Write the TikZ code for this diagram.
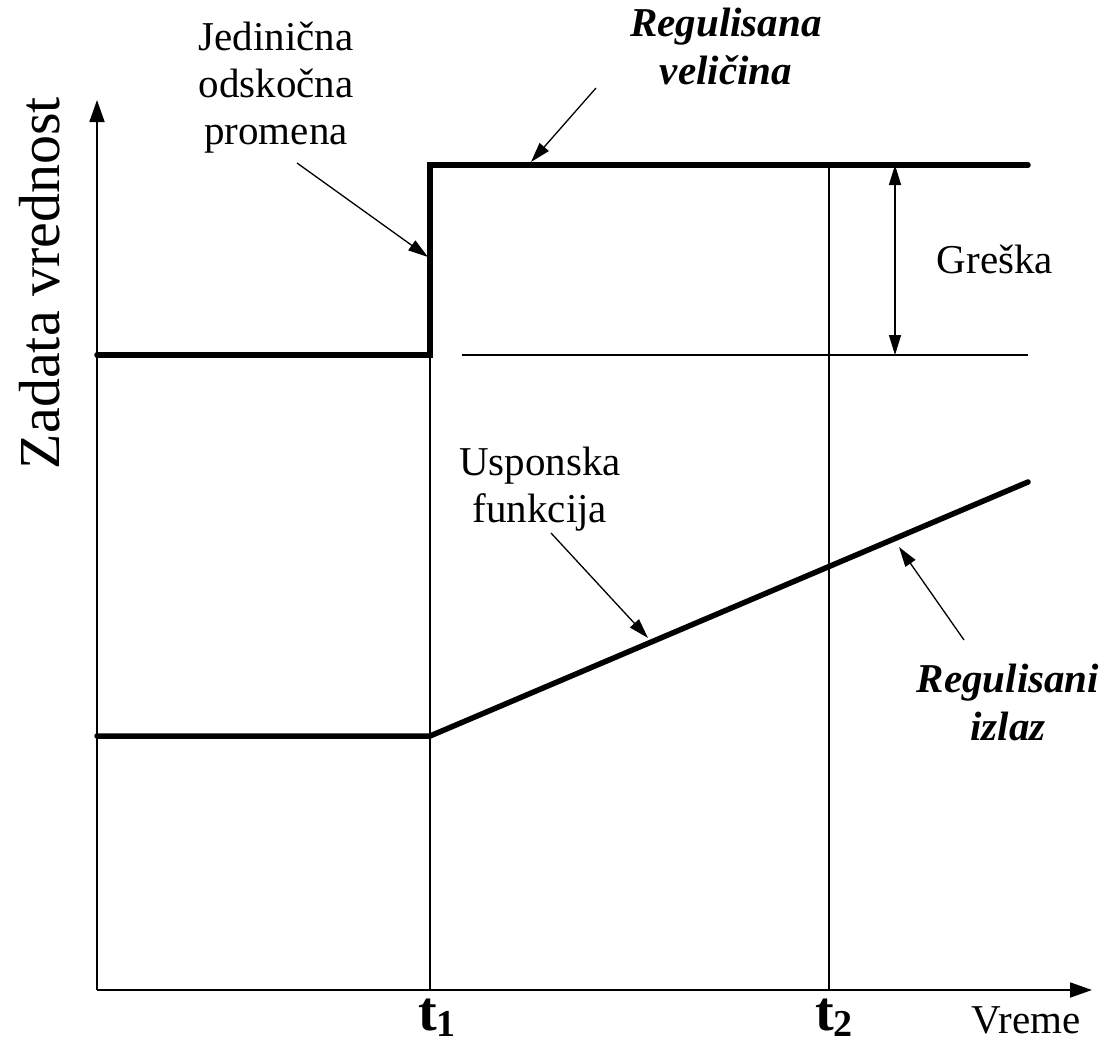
\documentclass[tikz,border=0pt]{standalone}
\usepackage{fontspec}
\setmainfont{Liberation Serif}
\usetikzlibrary{arrows.meta}
\begin{document}
\begin{tikzpicture}[x=1pt,y=-1pt,
  thickline/.style={line width=5.5pt, line join=miter},
  thinline/.style={line width=1.3pt},
  axisline/.style={line width=1.8pt, -{Triangle[length=22pt,width=15pt]}},
  lbl/.style={font=\fontsize{41}{47}\selectfont, align=center, inner sep=0pt},
  blbl/.style={font=\fontsize{41}{48}\selectfont\bfseries\itshape, align=center, inner sep=0pt},
  ptr/.style={line width=1.3pt, -{Triangle[length=20pt,width=12pt]}},
  dptr/.style={line width=1.3pt, {Triangle[length=20pt,width=12pt]}-{Triangle[length=20pt,width=12pt]}},
  tlbl/.style={font=\fontsize{56}{56}\selectfont\bfseries, inner sep=0pt, anchor=base}
  ]
\useasboundingbox (0,0) rectangle (1113,1049);
% coordinates
\coordinate (O) at (97,990);
\coordinate (Ytop) at (97,100);
\coordinate (Xend) at (1092,990);
\coordinate (s0) at (97,355);
\coordinate (s1) at (430,355);
\coordinate (s2) at (430,165);
\coordinate (s3) at (1028,165);
\coordinate (r0) at (97,736);
\coordinate (r1) at (430,736);
\coordinate (r2) at (1028,482);
\coordinate (t1b) at (430,990);
\coordinate (t2b) at (829,990);
\coordinate (t2t) at (829,165);
\coordinate (e0) at (462,355);
\coordinate (e1) at (1028,355);
\coordinate (g0) at (895,165);
\coordinate (g1) at (895,355);
% pointer coordinates
\coordinate (pJs) at (297,163);
\coordinate (pJe) at (428,257);
\coordinate (pRs) at (596,88);
\coordinate (pRe) at (531,162);
\coordinate (pUs) at (551,533);
\coordinate (pUe) at (648,638);
\coordinate (pIs) at (964,640);
\coordinate (pIe) at (899,547);

% thin lines
\draw[thinline] (t1b) -- (s1);
\draw[thinline] (t2b) -- (t2t);
\draw[thinline] (e0) -- (e1);
\draw[dptr] (g0) -- (g1);

% axes
\draw[axisline] (O) -- (Ytop);
\draw[axisline] (O) -- (Xend);

% thick curves
\draw[thickline, line cap=round] (s0) -- (s1) -- (s2) -- (s3);
\draw[thickline, line cap=round] (r0) -- (r1) -- (r2);

% labels
\node[lbl] (jed) at (276,88) {Jedinična\\odskočna\\promena};
\node[blbl] (regv) at (726,46) {Regulisana\\veličina};
\node[lbl] (usp) at (540,489) {Usponska\\funkcija};
\node[blbl] (regi) at (1008,702) {Regulisani\\izlaz};
\node[lbl, anchor=base] (gre) at (995,273) {Greška};
\node[lbl, anchor=base] (vre) at (1026,1033) {Vreme};
\node[font=\fontsize{58}{58}\selectfont, inner sep=0pt, rotate=90] (zad) at (40,283) {Zadata vrednost};
\node[tlbl] (t1) at (437,1030) {t\raisebox{-6pt}{\fontsize{38}{38}\selectfont 1}};
\node[tlbl] (t2) at (834,1030) {t\raisebox{-6pt}{\fontsize{38}{38}\selectfont 2}};

% pointers
\draw[ptr] (pJs) -- (pJe);
\draw[ptr] (pRs) -- (pRe);
\draw[ptr] (pUs) -- (pUe);
\draw[ptr] (pIs) -- (pIe);
\end{tikzpicture}
\end{document}
